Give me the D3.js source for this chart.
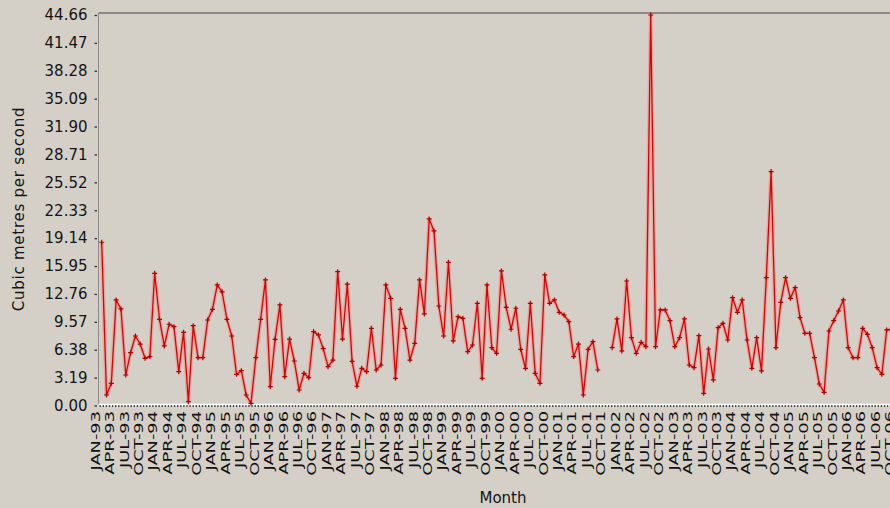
<!DOCTYPE html>
<html>
<head>
<meta charset="utf-8">
<script src="https://cdn.jsdelivr.net/npm/d3@7"></script>
<style>
  html, body { margin: 0; padding: 0; background: #d4d0c8; overflow: hidden; }
  svg { display: block; }
</style>
</head>
<body>
<svg id="chart" width="890" height="508"></svg>
<script>
// Monthly mean flow in cubic metres per second, starting January 1993.
// null marks months without a record.
const startYear = 1993;
const monthNames = ["JAN","FEB","MAR","APR","MAY","JUN","JUL","AUG","SEP","OCT","NOV","DEC"];
const monthCount = 168;

const flow = [
  18.67, 1.20, 2.54, 12.07, 11.04, 3.49, 6.04, 7.95, 7.03, 5.40, 5.59, 15.12,   // 1993
  9.86, 6.81, 9.29, 9.02, 3.87, 8.37, 0.44, 9.13, 5.47, 5.47, 9.78, 11.00,      // 1994
  13.79, 13.00, 9.86, 7.95, 3.57, 3.98, 1.20, 0.25, 5.47, 9.86, 14.36, 2.15,    // 1995
  7.57, 11.50, 3.30, 7.60, 5.09, 1.77, 3.68, 3.18, 8.45, 8.07, 6.50, 4.44,      // 1996
  5.20, 15.31, 7.60, 13.87, 5.05, 2.20, 4.25, 3.87, 8.83, 4.06, 4.63, 13.79,    // 1997
  12.26, 3.11, 11.00, 8.83, 5.20, 7.11, 14.36, 10.47, 21.34, 19.97, 11.38, 7.95, // 1998
  16.38, 7.38, 10.16, 9.97, 6.16, 6.92, 11.69, 3.11, 13.79, 6.61, 5.97, 15.39,  // 1999
  11.23, 8.72, 11.12, 6.43, 4.25, 11.69, 3.68, 2.54, 14.93, 11.69, 12.07, 10.66, // 2000
  10.35, 9.59, 5.59, 7.03, 1.20, 6.43, 7.30, 4.06, null, null, 6.61, 9.90,      // 2001
  6.24, 14.24, 7.76, 5.97, 7.23, 6.73, 44.66, 6.73, 10.93, 10.93, 9.70, 6.73,   // 2002
  7.76, 9.90, 4.63, 4.33, 7.99, 1.39, 6.46, 2.92, 8.90, 9.40, 7.49, 12.33,      // 2003
  10.66, 12.07, 7.49, 4.25, 7.76, 3.95, 14.62, 26.75, 6.61, 11.80, 14.62, 12.26, // 2004
  13.48, 10.05, 8.26, 8.26, 5.47, 2.46, 1.51, 8.52, 9.70, 10.81, 12.07, 6.61,   // 2005
  5.47, 5.47, 8.83, 8.14, 6.61, 4.33, 3.57, 8.64, 8.70                          // 2006
];

const yTicks = [0.00, 3.19, 6.38, 9.57, 12.76, 15.95, 19.14, 22.33, 25.52, 28.71, 31.90, 35.09, 38.28, 41.47, 44.66];

// Month category labels, one every quarter
const monthLabel = i => monthNames[i % 12] + "-" + String((startYear + Math.floor(i / 12)) % 100).padStart(2, "0");
const labelIdx = d3.range(0, monthCount, 3);

const svg = d3.select("#chart");
const step = 4.816;
const x = d3.scaleLinear().domain([0, monthCount - 1]).range([101.7, 101.7 + step * (monthCount - 1)]);
const y = d3.scaleLinear().domain([0, 44.66]).range([405.5, 15]);

const plotLeft = 98.5, plotTop = 13, plotRight = 890;

// Frame: top edge and left axis line
svg.append("line")
  .attr("x1", plotLeft).attr("x2", plotRight)
  .attr("y1", plotTop).attr("y2", plotTop)
  .attr("stroke", "#8c8a86").attr("stroke-width", 2);
svg.append("line")
  .attr("x1", plotLeft).attr("x2", plotLeft)
  .attr("y1", plotTop).attr("y2", y(0))
  .attr("stroke", "#8c8a86").attr("stroke-width", 1);

// Y axis ticks and labels
const yAxis = d3.axisLeft(y)
  .tickValues(yTicks)
  .tickSize(2.5)
  .tickPadding(7)
  .tickFormat(d => d.toFixed(2));
const gy = svg.append("g").attr("transform", "translate(97,0)").call(yAxis);
gy.select(".domain").remove();
gy.selectAll(".tick line").attr("stroke", "#333").attr("stroke-width", 1.3);
gy.selectAll(".tick text")
  .attr("font-family", "'DejaVu Sans', sans-serif")
  .attr("font-size", 15)
  .attr("fill", "#141414");

// X axis: white base line with a dotted black rule
svg.append("line")
  .attr("x1", plotLeft).attr("x2", plotRight)
  .attr("y1", y(0) - 0.5).attr("y2", y(0) - 0.5)
  .attr("stroke", "#ffffff").attr("stroke-width", 2.5);
svg.append("line")
  .attr("x1", plotLeft + 1).attr("x2", plotRight)
  .attr("y1", y(0) + 0.5).attr("y2", y(0) + 0.5)
  .attr("stroke", "#111").attr("stroke-width", 1.3)
  .attr("stroke-dasharray", "1.4 1.7");

// Quarterly month labels, rotated
svg.append("g").selectAll("text")
  .data(labelIdx)
  .join("text")
  .attr("transform", i => `translate(${x(i) - 2},411) rotate(-90) scale(1.55,1)`)
  .attr("text-anchor", "end")
  .attr("font-family", "'DejaVu Sans', sans-serif")
  .attr("font-size", 11.5)
  .attr("fill", "#111")
  .text(monthLabel);

// Axis titles
svg.append("text")
  .attr("transform", "translate(24,209) rotate(-90)")
  .attr("text-anchor", "middle")
  .attr("font-family", "'DejaVu Sans', sans-serif")
  .attr("font-size", 15)
  .attr("letter-spacing", 0.75)
  .attr("fill", "#141414")
  .text("Cubic metres per second");
svg.append("text")
  .attr("x", 503).attr("y", 502.5)
  .attr("text-anchor", "middle")
  .attr("font-family", "'DejaVu Sans', sans-serif")
  .attr("font-size", 15)
  .attr("fill", "#141414")
  .text("Month");

// Flow series
const points = flow.map((v, i) => ({ i, v }));
const line = d3.line()
  .defined(d => d.v !== null)
  .x(d => x(d.i))
  .y(d => y(d.v));

const series = svg.append("g");
series.append("path")
  .datum(points)
  .attr("fill", "none")
  .attr("stroke", "#ff5a5a")
  .attr("stroke-opacity", 0.3)
  .attr("stroke-width", 4)
  .attr("stroke-linejoin", "round")
  .attr("d", line);
series.append("path")
  .datum(points)
  .attr("fill", "none")
  .attr("stroke", "#dc0000")
  .attr("stroke-width", 1.3)
  .attr("stroke-linejoin", "round")
  .attr("d", line);

// Cross markers at each recorded month
series.selectAll("path.mark")
  .data(points.filter(d => d.v !== null))
  .join("path")
  .attr("class", "mark")
  .attr("transform", d => `translate(${x(d.i)},${y(d.v)})`)
  .attr("d", "M-2.5,0H2.5M0,-2.5V2.5")
  .attr("stroke", "#b00000")
  .attr("stroke-width", 1.2);
</script>
</body>
</html>
